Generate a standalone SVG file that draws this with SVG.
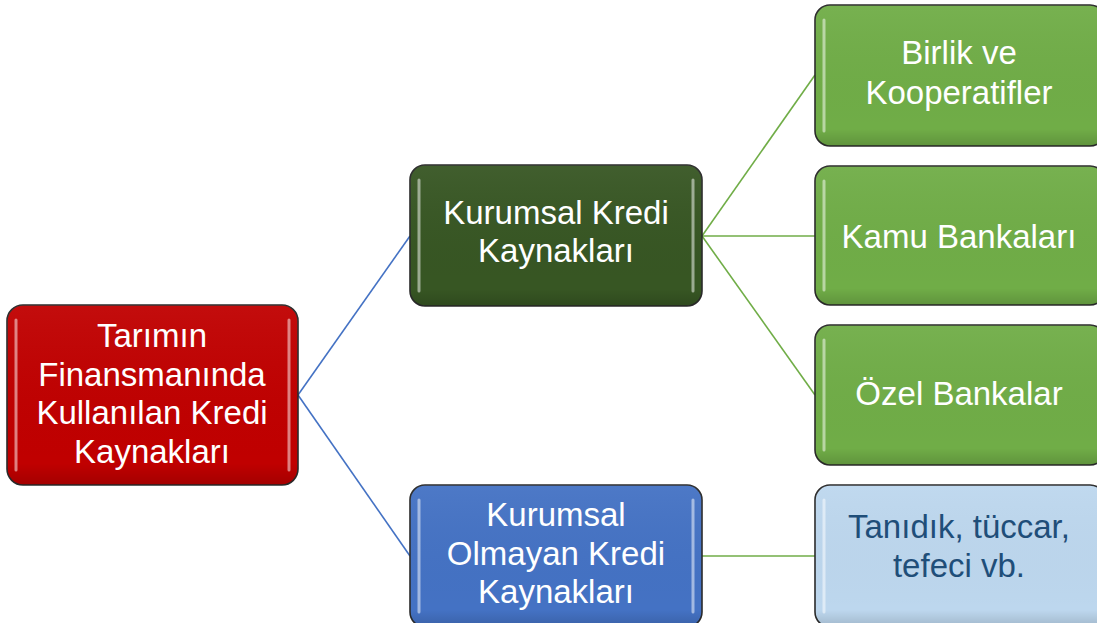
<svg xmlns="http://www.w3.org/2000/svg" width="1097" height="623" viewBox="0 0 1097 623">
<style>
.box{stroke:#2b2b2b;stroke-width:1.6}
.hl{stroke:#ffffff;stroke-opacity:0.5;stroke-width:3;stroke-linecap:round;fill:none}
.t{font-family:"Liberation Sans",Arial,sans-serif;font-size:33px;fill:#ffffff;text-anchor:middle}
.dark{fill:#1f4e79}
.cb{stroke:#4472c4;stroke-width:1.6;fill:none}
.cg{stroke:#70ad47;stroke-width:1.6;fill:none}
</style>
<defs>
<linearGradient id="shade" x1="0" y1="0" x2="0" y2="1">
<stop offset="0" stop-color="#ffffff" stop-opacity="0.05"/>
<stop offset="0.88" stop-color="#000000" stop-opacity="0"/>
<stop offset="1" stop-color="#000000" stop-opacity="0.15"/>
</linearGradient>
</defs>
<rect width="1097" height="623" fill="#ffffff"/>
<g id="connectors">
<line class="cb" x1="298" y1="395" x2="410" y2="236"/>
<line class="cb" x1="298" y1="395" x2="410" y2="556"/>
<line class="cg" x1="702" y1="236" x2="815" y2="75"/>
<line class="cg" x1="702" y1="236" x2="815" y2="236"/>
<line class="cg" x1="702" y1="236" x2="815" y2="395"/>
<line class="cg" x1="702" y1="556" x2="815" y2="556"/>
</g>
<g id="root">
<rect class="box" x="7" y="305" width="291" height="180" rx="16" fill="#c00000"/>
<rect x="7" y="305" width="291" height="180" rx="16" fill="url(#shade)"/>
<line class="hl" x1="16" y1="320" x2="16" y2="470"/>
<line class="hl" x1="289" y1="320" x2="289" y2="470"/>
<text class="t" x="152" y="347">Tarımın</text>
<text class="t" x="152" y="386">Finansmanında</text>
<text class="t" x="152" y="424">Kullanılan Kredi</text>
<text class="t" x="152" y="463">Kaynakları</text>
</g>
<g id="kurumsal">
<rect class="box" x="410" y="165" width="292" height="141" rx="15" fill="#375623"/>
<rect x="410" y="165" width="292" height="141" rx="15" fill="url(#shade)"/>
<line class="hl" x1="419" y1="180" x2="419" y2="291"/>
<line class="hl" x1="693" y1="180" x2="693" y2="291"/>
<text class="t" x="556" y="224">Kurumsal Kredi</text>
<text class="t" x="556" y="262">Kaynakları</text>
</g>
<g id="olmayan">
<rect class="box" x="410" y="485" width="292" height="142" rx="15" fill="#4472c4"/>
<rect x="410" y="485" width="292" height="142" rx="15" fill="url(#shade)"/>
<line class="hl" x1="419" y1="500" x2="419" y2="612"/>
<line class="hl" x1="693" y1="500" x2="693" y2="612"/>
<text class="t" x="556" y="526">Kurumsal</text>
<text class="t" x="556" y="565">Olmayan Kredi</text>
<text class="t" x="556" y="603">Kaynakları</text>
</g>
<g id="birlik">
<rect class="box" x="815" y="5" width="290" height="141" rx="15" fill="#70ad47"/>
<rect x="815" y="5" width="290" height="141" rx="15" fill="url(#shade)"/>
<line class="hl" x1="824" y1="20" x2="824" y2="131"/>
<text class="t" x="959" y="64">Birlik ve</text>
<text class="t" x="959" y="104">Kooperatifler</text>
</g>
<g id="kamu">
<rect class="box" x="815" y="166" width="290" height="139" rx="15" fill="#70ad47"/>
<rect x="815" y="166" width="290" height="139" rx="15" fill="url(#shade)"/>
<line class="hl" x1="824" y1="181" x2="824" y2="290"/>
<text class="t" x="959" y="248">Kamu Bankaları</text>
</g>
<g id="ozel">
<rect class="box" x="815" y="325" width="290" height="140" rx="15" fill="#70ad47"/>
<rect x="815" y="325" width="290" height="140" rx="15" fill="url(#shade)"/>
<line class="hl" x1="824" y1="340" x2="824" y2="450"/>
<text class="t" x="959" y="405">Özel Bankalar</text>
</g>
<g id="tanidik">
<rect class="box" x="815" y="485" width="290" height="142" rx="15" fill="#bdd7ee"/>
<rect x="815" y="485" width="290" height="142" rx="15" fill="url(#shade)"/>
<line class="hl" x1="824" y1="500" x2="824" y2="612"/>
<text class="t dark" x="959" y="538">Tanıdık, tüccar,</text>
<text class="t dark" x="959" y="577">tefeci vb.</text>
</g>
</svg>
